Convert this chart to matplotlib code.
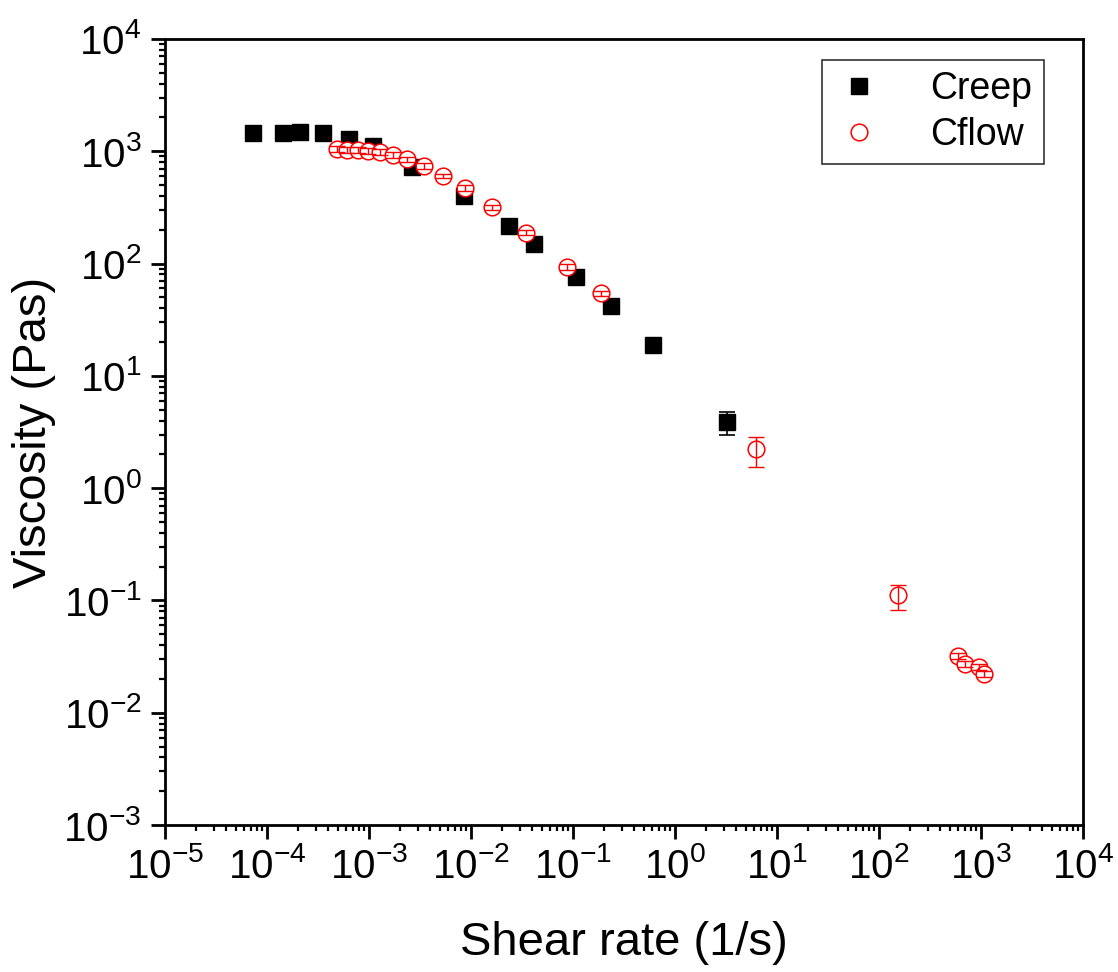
import matplotlib
matplotlib.use("Agg")
import matplotlib.pyplot as plt
import numpy as np
from matplotlib.ticker import LogLocator, FuncFormatter, NullFormatter

plt.rcParams['font.family'] = ['Liberation Sans', 'DejaVu Sans']
plt.rcParams['mathtext.fontset'] = 'custom'
plt.rcParams['mathtext.rm'] = 'Liberation Sans'
plt.rcParams['mathtext.it'] = 'Liberation Sans:italic'
plt.rcParams['mathtext.bf'] = 'Liberation Sans:bold'

# ---- data ----
creep_rate = [7.3e-5, 1.44e-4, 2.1e-4, 3.54e-4, 6.4e-4, 1.09e-3, 2.64e-3, 8.5e-3,
              0.0236, 0.0415, 0.107, 0.236, 0.608, 3.24]
creep_visc = [1456, 1456, 1486, 1456, 1288, 1115, 724, 400,
              216, 150, 76, 41.9, 18.8, 3.89]
creep_err_lo = [20, 20, 20, 20, 20, 20, 15, 10, 5, 4, 2, 1.2, 1.5, 0.91]
creep_err_hi = [20, 20, 20, 20, 20, 20, 15, 10, 5, 4, 2, 1.2, 0.5, 0.89]

cflow_rate = [4.85e-4, 6.08e-4, 7.8e-4, 9.8e-4, 1.28e-3, 1.72e-3, 2.36e-3, 3.46e-3,
              5.31e-3, 8.73e-3, 0.0161, 0.0346, 0.0873, 0.188, 6.18, 152,
              600, 697, 955, 1069]
cflow_visc = [1048, 1028, 1028, 1007, 986, 927, 853, 739,
              603, 471, 316, 188, 93.4, 54.2, 2.23, 0.112,
              0.032, 0.0272, 0.0254, 0.0221]
cflow_err_lo = [60, 60, 60, 60, 55, 50, 45, 40, 30, 25, 18, 10, 5, 3, 0.68, 0.030,
                0.002, 0.0018, 0.0016, 0.0014]
cflow_err_hi = [60, 60, 60, 60, 55, 50, 45, 40, 30, 25, 18, 10, 5, 3, 0.61, 0.024,
                0.002, 0.0018, 0.0016, 0.0014]

xlabel = "Shear rate (1/s)"
ylabel = "Viscosity (Pas)"

fig = plt.figure(figsize=(11.18, 9.72), dpi=100)
ax = fig.add_axes([0.1476, 0.1512, 0.8211, 0.8087])

ax.set_xscale('log')
ax.set_yscale('log')
ax.set_xlim(1e-5, 1e4)
ax.set_ylim(1e-3, 1e4)

# creep
ax.errorbar(creep_rate, creep_visc, yerr=[creep_err_lo, creep_err_hi], fmt='none',
            ecolor='black', elinewidth=1.2, capsize=5.5, capthick=1.2, zorder=2)
ax.plot(creep_rate, creep_visc, linestyle='none', marker='s', markersize=11.5,
        color='black', label='Creep', zorder=3)

# cflow
ax.plot(cflow_rate, cflow_visc, linestyle='none', marker='o', markersize=12,
        markerfacecolor='white', markeredgecolor='red', markeredgewidth=1.1,
        label='Cflow', zorder=4)
ax.errorbar(cflow_rate, cflow_visc, yerr=[cflow_err_lo, cflow_err_hi], fmt='none',
            ecolor='red', elinewidth=1.0, capsize=5.5, capthick=1.0, zorder=5)

for s in ax.spines.values():
    s.set_linewidth(2.0)

ax.xaxis.set_major_locator(LogLocator(base=10, numticks=20))
ax.yaxis.set_major_locator(LogLocator(base=10, numticks=20))
ax.xaxis.set_minor_locator(LogLocator(base=10, subs=np.arange(2, 10), numticks=20))
ax.yaxis.set_minor_locator(LogLocator(base=10, subs=np.arange(2, 10), numticks=20))
fmt = FuncFormatter(lambda v, p: r"$\mathregular{10^{%d}}$" % int(round(np.log10(v))))
ax.xaxis.set_major_formatter(fmt)
ax.yaxis.set_major_formatter(fmt)
ax.xaxis.set_minor_formatter(NullFormatter())
ax.yaxis.set_minor_formatter(NullFormatter())

ax.tick_params(which='major', direction='out', length=10, width=2, labelsize=29,
               top=False, right=False)
ax.tick_params(which='minor', direction='out', length=4.5, width=1.6,
               top=False, right=False)
ax.tick_params(axis='x', which='major', pad=6)
ax.tick_params(axis='y', which='major', pad=7)

ax.set_xlabel(xlabel, fontsize=34, labelpad=25)
ax.set_ylabel(ylabel, fontsize=34, labelpad=5)

leg = ax.legend(loc='upper right', bbox_to_anchor=(0.957, 0.973), borderaxespad=0,
                fontsize=27, frameon=True, fancybox=False, edgecolor='black',
                handlelength=1.4, handletextpad=1.2, borderpad=0.3,
                labelspacing=0.25, markerscale=1.0)
leg.get_frame().set_linewidth(1.2)

fig.savefig('out.png', dpi=100)
